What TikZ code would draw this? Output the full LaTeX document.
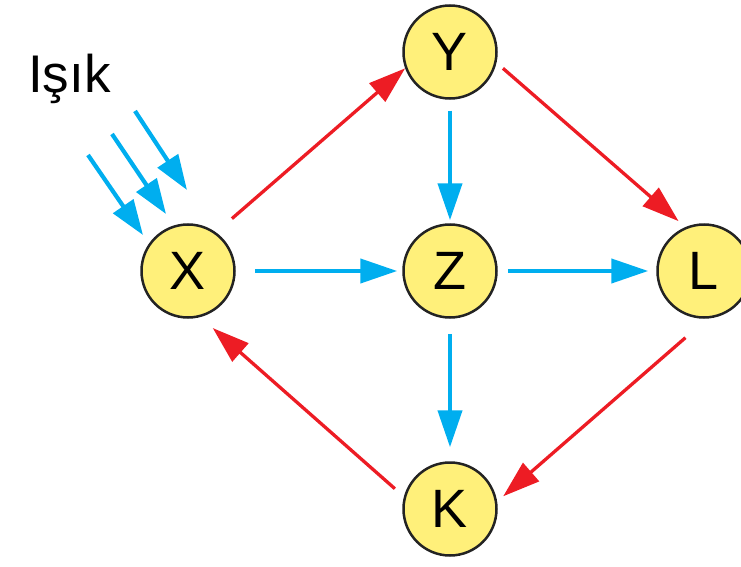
\documentclass[tikz,border=0pt]{standalone}
\usepackage{fontspec}
\setmainfont{Liberation Sans}
\usetikzlibrary{arrows.meta}
\definecolor{nodeyellow}{RGB}{255,240,122}
\definecolor{arrblue}{RGB}{0,174,239}
\definecolor{arrred}{RGB}{237,28,36}
\definecolor{rimgray}{RGB}{35,35,35}
\tikzset{
  circnode/.style={circle, draw=rimgray, line width=2.5pt, fill=nodeyellow, minimum size=93pt, inner sep=0pt, font=\fontsize{54}{54}\selectfont},
  bluearr/.style={draw=arrblue, line width=4.2pt, -{Triangle[length=37pt,width=24pt]}, arrblue},
  redarr/.style={draw=arrred, line width=3.3pt, -{Triangle[length=37pt,width=24pt]}, arrred},
  lightarr/.style={draw=arrblue, line width=4.2pt, -{Triangle[length=35pt,width=24pt]}, arrblue}
}
\begin{document}
\begin{tikzpicture}[x=1pt,y=1pt]
\useasboundingbox (0,0) rectangle (741,-567);
\node[circnode] (Y) at (450,-52) {Y};
\node[circnode] (X) at (188,-271) {X};
\node[circnode] (Z) at (450,-271) {Z};
\node[circnode] (L) at (704,-271) {L};
\node[circnode] (K) at (450,-509) {K};
\node[anchor=base west, inner sep=0pt, font=\fontsize{53}{53}\selectfont] (isik) at (28,-93) {Işık};
\draw[bluearr, shorten <=19pt, shorten >=5pt] (X.east) -- (Z.west);
\draw[bluearr, shorten <=10pt, shorten >=8pt] (Z.east) -- (L.west);
\draw[bluearr, shorten <=11pt, shorten >=3pt] (Y.south) -- (Z.north);
\draw[bluearr, shorten <=15pt, shorten >=14pt] (Z.south) -- (K.north);
\draw[redarr, shorten <=21pt, shorten >=0pt] (X.54) -- (Y.200);
\draw[redarr, shorten <=8.5pt, shorten >=9pt] (Y.-13) -- (L.113);
\draw[redarr, shorten <=29pt, shorten >=8pt] (L.-86) -- (K.9);
\draw[redarr, shorten <=12pt, shorten >=16.5pt] (K.165) -- (X.-75);
\coordinate (a1) at (88,-155); \coordinate (b1) at (143,-235);
\coordinate (a2) at (112,-134); \coordinate (b2) at (166,-214);
\coordinate (a3) at (135,-111); \coordinate (b3) at (187,-190);
\draw[lightarr] (a1) -- (b1);
\draw[lightarr] (a2) -- (b2);
\draw[lightarr] (a3) -- (b3);
\end{tikzpicture}
\end{document}
